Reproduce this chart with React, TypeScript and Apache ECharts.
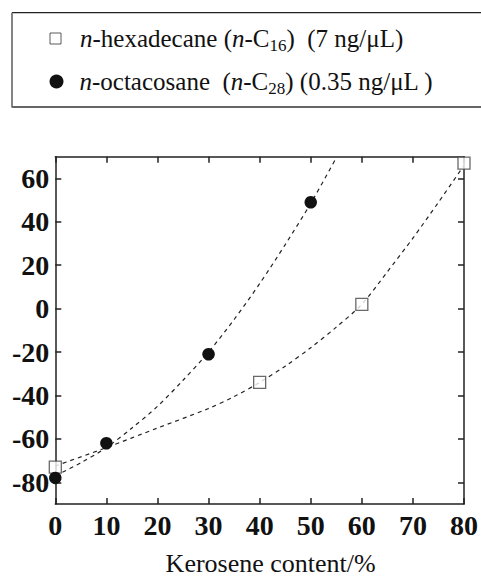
import React, { useEffect, useRef } from "react";
import * as echarts from "echarts";

// Measured points
const hexX = [0, 40, 60, 80];
const hexY = [-73, -34, 2, 67];
const octX = [0, 10, 30, 50];
const octY = [-78, -62, -21, 49];

// Dashed trend curves
const hexCurveX = [0, 10, 20, 30, 35, 40, 45, 50, 55, 60, 65, 70, 75, 80];
const hexCurveY = [-72.5, -64, -55, -46, -40.5, -34, -26.5, -18, -8.5, 2, 17, 32.5, 49, 66];
const octCurveX = [0, 5, 10, 15, 20, 25, 30, 35, 40, 45, 50, 55];
const octCurveY = [-77, -71, -64, -55, -45, -33, -20, -5, 11.5, 29.5, 48.5, 69.5];

// Axis ticks
const yTickValues = [-80, -60, -40, -20, 0, 20, 40, 60];
const xTickValues = [0, 10, 20, 30, 40, 50, 60, 70, 80];

const seriesNames = ["hexadecane", "octacosane"];
const legendTexts: Record<string, string> = {
  hexadecane: "{i|n}-hexadecane ({i|n}-C{sub|16})  (7 ng/\u03bcL)",
  octacosane: "{i|n}-octacosane  ({i|n}-C{sub|28}) (0.35 ng/\u03bcL )",
};
const xAxisName = "Kerosene content/%";

const FONT = "Liberation Serif";
const INK = "#111";

const zip = (xs: number[], ys: number[]) => xs.map((x, i) => [x, ys[i]]);

export default function App() {
  const ref = useRef<HTMLDivElement>(null);
  useEffect(() => {
    if (!ref.current) return;
    const chart = echarts.init(ref.current, undefined, { renderer: "svg" });

    const richStyles = {
      i: { fontFamily: FONT, fontSize: 25, fontStyle: "italic", color: INK, lineHeight: 30 },
      sub: { fontFamily: FONT, fontSize: 17, color: INK, lineHeight: 19, verticalAlign: "bottom" },
    };
    const legendText = (pad: number) => ({
      fontFamily: FONT,
      fontSize: 25,
      color: INK,
      lineHeight: 30,
      padding: [0, 0, 0, pad],
      rich: richStyles,
    });

    const axisLineStyle = { color: "#222", width: 1.5 };
    const commonX = {
      type: "value",
      min: 0,
      max: 80,
      interval: 10,
      splitLine: { show: false },
      axisLine: { show: true, onZero: false, lineStyle: axisLineStyle },
      axisTick: { show: true, inside: true, length: 6, lineStyle: axisLineStyle, customValues: xTickValues },
    };
    const commonY = {
      type: "value",
      min: -90,
      max: 70,
      splitLine: { show: false },
      axisLine: { show: true, onZero: false, lineStyle: axisLineStyle },
      axisTick: { show: true, inside: true, length: 6, lineStyle: axisLineStyle, customValues: yTickValues },
    };

    chart.setOption({
      animation: false,
      backgroundColor: "#fff",
      textStyle: { fontFamily: FONT },
      grid: { left: 55.3, right: 15.7, top: 156.7, bottom: 70.3, containLabel: false },
      graphic: [
        { type: "line", shape: { x1: 12, y1: 12.7, x2: 481, y2: 12.7 }, style: { stroke: "#222", lineWidth: 1.2 } },
        { type: "line", shape: { x1: 12, y1: 12.7, x2: 12, y2: 107.5 }, style: { stroke: "#777", lineWidth: 1.8 } },
        { type: "line", shape: { x1: 12, y1: 107, x2: 481, y2: 107 }, style: { stroke: "#666", lineWidth: 2.2 } },
      ],
      legend: [
        {
          data: [{ name: seriesNames[0], icon: "rect" }],
          left: 49.5,
          top: 23.5,
          padding: 0,
          itemWidth: 11,
          itemHeight: 11,
          selectedMode: false,
          itemStyle: { color: "#fff", borderColor: "#333", borderWidth: 1 },
          formatter: (name: string) => legendTexts[name],
          textStyle: legendText(14),
        },
        {
          data: [{ name: seriesNames[1], icon: "circle" }],
          left: 49.5,
          top: 66.5,
          padding: 0,
          itemWidth: 14,
          itemHeight: 14,
          selectedMode: false,
          itemStyle: { color: "#111", borderWidth: 0 },
          formatter: (name: string) => legendTexts[name],
          textStyle: legendText(11),
        },
      ],
      xAxis: [
        {
          ...commonX,
          position: "bottom",
          axisLabel: {
            show: true,
            margin: 7,
            fontFamily: FONT,
            fontSize: 28,
            fontWeight: "bold",
            color: INK,
            customValues: xTickValues,
          },
          name: xAxisName,
          nameLocation: "middle",
          nameGap: 46,
          nameTextStyle: { fontFamily: FONT, fontSize: 26, color: INK, padding: [0, 0, 0, 22] },
        },
        { ...commonX, position: "top", axisLabel: { show: false } },
      ],
      yAxis: [
        {
          ...commonY,
          position: "left",
          axisLabel: {
            show: true,
            margin: 6,
            fontFamily: FONT,
            fontSize: 28,
            fontWeight: "bold",
            color: INK,
            padding: [0, 0, 6, 0],
            customValues: yTickValues,
          },
        },
        { ...commonY, position: "right", axisLabel: { show: false } },
      ],
      series: [
        {
          type: "line",
          data: zip(hexCurveX, hexCurveY),
          smooth: 0.3,
          symbol: "none",
          silent: true,
          z: 1,
          lineStyle: { type: [4, 4], width: 1.2, color: "#222" },
        },
        {
          type: "line",
          data: zip(octCurveX, octCurveY),
          smooth: 0.3,
          symbol: "none",
          silent: true,
          z: 1,
          lineStyle: { type: [4, 4], width: 1.2, color: "#222" },
        },
        {
          type: "scatter",
          name: seriesNames[0],
          data: zip(hexX, hexY),
          symbol: "rect",
          symbolSize: 12,
          clip: false,
          z: 3,
          itemStyle: { color: "#fff", borderColor: "#444", borderWidth: 1.3 },
        },
        {
          type: "scatter",
          name: seriesNames[1],
          data: zip(octX, octY),
          symbol: "circle",
          symbolSize: 12.5,
          clip: false,
          z: 4,
          itemStyle: { color: "#111", opacity: 1 },
        },
      ],
    });
    return () => chart.dispose();
  }, []);
  return (
    <div
      ref={ref}
      style={{ position: "fixed", left: 0, top: 0, width: 481, height: 581, background: "#fff" }}
    />
  );
}
